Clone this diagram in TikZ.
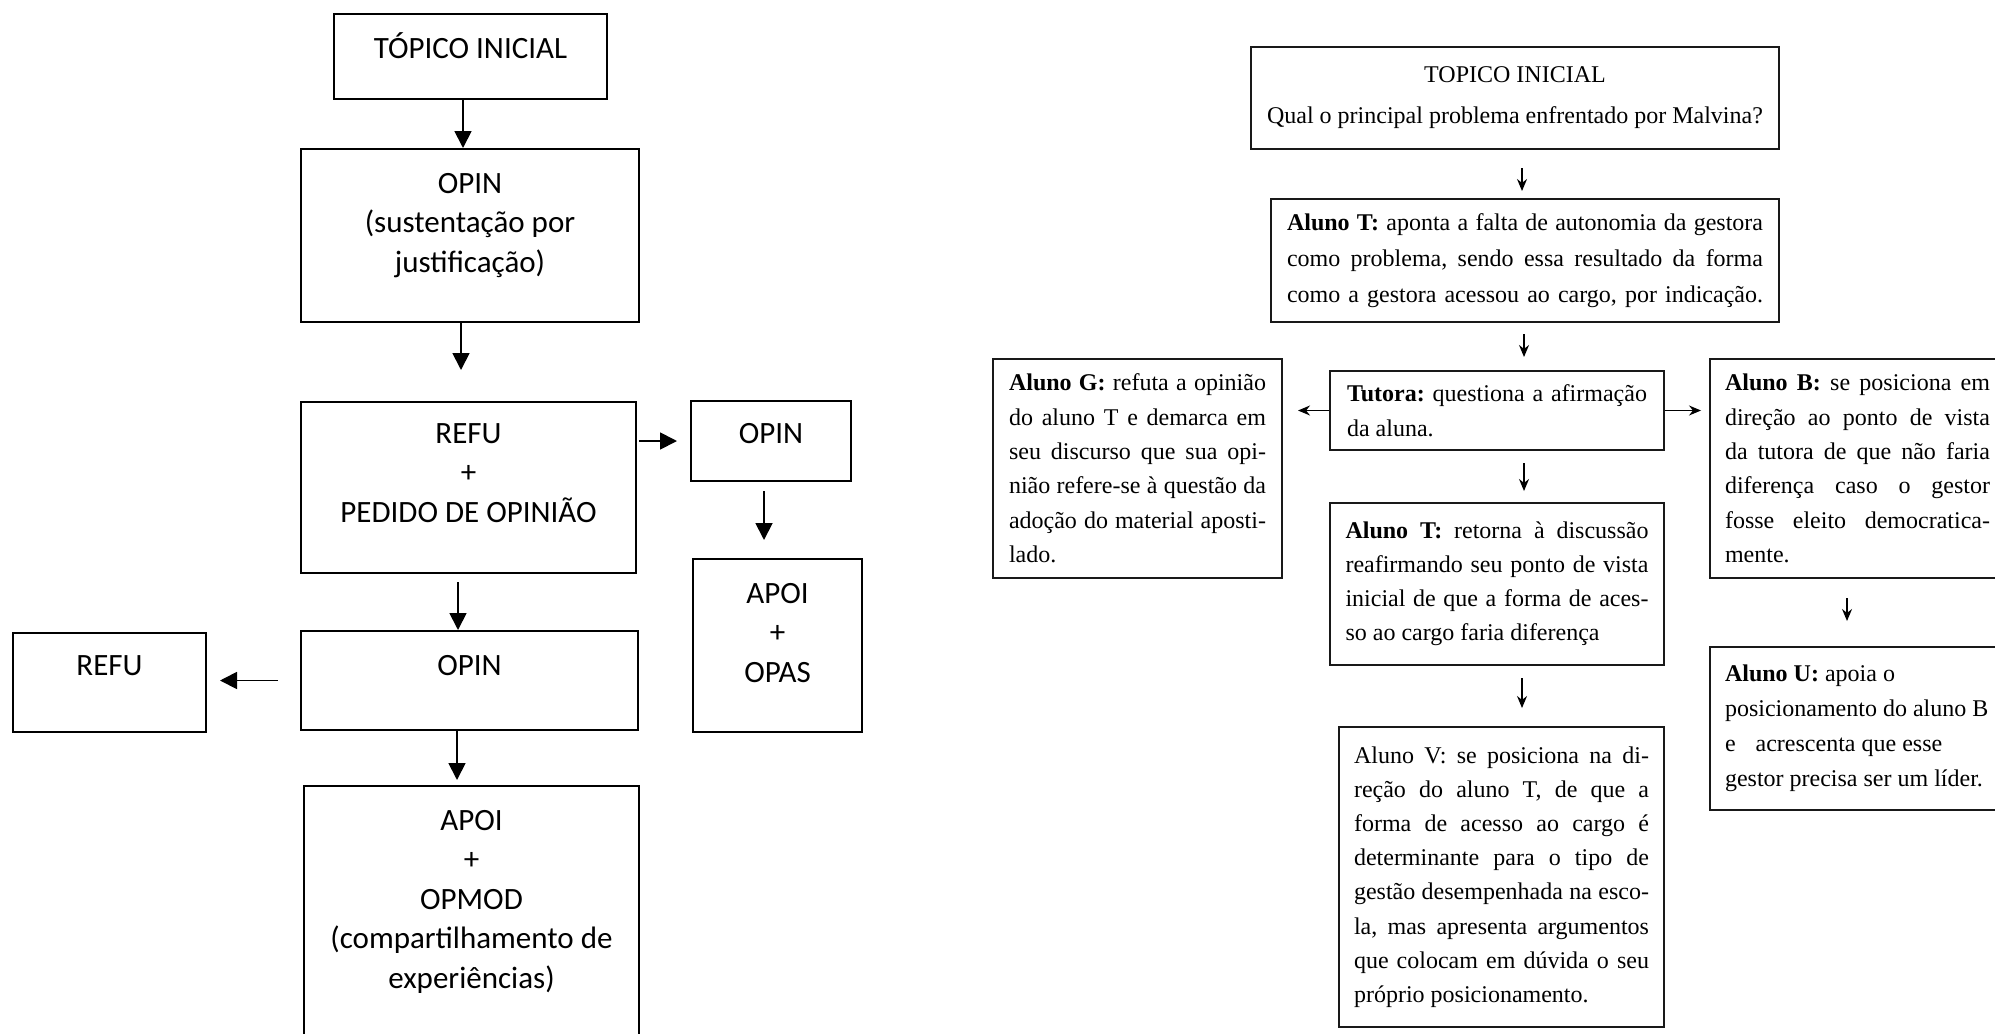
\documentclass[tikz,border=0pt]{standalone}
\usepackage{fontspec}
\usetikzlibrary{arrows.meta}
\newfontfamily\carlito{Carlito}
\newfontfamily\serifa{Liberation Serif}
\newcommand{\esqfont}{\carlito\fontsize{15.5pt}{19.75pt}\selectfont}
\newcommand{\dirfont}[1][17.2pt]{\serifa\fontsize{12pt}{#1}\selectfont\frenchspacing}
\newcommand{\topo}[4]{\parbox[c][#2][t]{#1}{\centering\rule{0pt}{#3}#4}}
\newcommand{\cheia}[1]{{\spaceskip=0pt\xspaceskip=0pt\makebox[\linewidth][s]{#1}}}

\tikzset{
	esq/.style={draw, line width=1pt, inner sep=0pt, font=\esqfont},
	dir/.style={draw=black!90, line width=1pt, inner sep=0pt, align=left, font=\dirfont,
		execute at begin node={\spaceskip=0pt\xspaceskip=0pt}},
	seta/.style={line width=0.9pt, -{Triangle[length=8.5pt,width=8.5pt]}},
	setafina/.style={line width=0.6pt, -{Stealth[length=6pt,width=5pt]}}
}

\begin{document}
\begin{tikzpicture}[x=0.5pt, y=-0.5pt]
		\path[use as bounding box, fill=white] (0, 0) rectangle (1995, 1033);

		%%% Esquema da esquerda
		\node[esq] (topico1) at (470.5, 56.5) {\topo{136.5pt}{42.5pt}{22pt}{TÓPICO INICIAL}};
		\node[esq] (opin1) at (470, 235.5) {\topo{169pt}{86.5pt}{22pt}{OPIN\\(sustentação por\\justificação)}};
		\node[esq] (refu1) at (468.5, 487.5) {\topo{167.5pt}{85.5pt}{20.5pt}{REFU\\+\\PEDIDO DE OPINIÃO}};
		\node[esq] (opin2) at (771, 441) {\topo{80pt}{40pt}{21pt}{OPIN}};
		\node[esq] (apoi1) at (777.5, 645.5) {\topo{84.5pt}{86.5pt}{22pt}{APOI\\+\\OPAS}};
		\node[esq] (opin3) at (469.5, 680.5) {\topo{168.5pt}{49.5pt}{22pt}{OPIN}};
		\node[esq] (refu2) at (109.5, 682.5) {\topo{96.5pt}{49.5pt}{21pt}{REFU}};
		\node[esq] (apoi2) at (471.5, 915.5) {\topo{167.5pt}{129.5pt}{22pt}{APOI\\+\\OPMOD\\(compartilhamento de\\experiências)}};

		\draw[seta] ([xshift=-3.75pt]topico1.south) -- ([xshift=-3.5pt]opin1.north);
		\draw[seta, shorten >=15.5pt] ([xshift=-4.5pt]opin1.south) -- ([xshift=-3.75pt]refu1.north);
		\draw[seta, shorten <=1pt, shorten >=6.5pt] (refu1.east |- opin2.west) -- (opin2.west);
		\draw[seta, shorten <=4.5pt, shorten >=9pt] ([xshift=-3.5pt]opin2.south) -- ([xshift=-6.75pt]apoi1.north);
		\draw[seta, shorten <=4pt] ([xshift=-5.25pt]refu1.south) -- ([xshift=-5.75pt]opin3.north);
		\draw[seta, shorten <=11pt, shorten >=6.5pt] (opin3.west) -- (refu2.east |- opin3.west);
		\draw[seta, shorten >=2.5pt] ([xshift=-6.25pt]opin3.south) -- ([xshift=-7.25pt]apoi2.north);

		%%% Esquema da direita
		\node[dir, align=center, text width=262pt, minimum width=264pt, minimum height=51pt, font={\dirfont[20.5pt]}] (topico2) at (1515, 98)
			{\mbox{TOPICO INICIAL}\\\mbox{Qual o principal problema enfrentado por Malvina?}};
		\node[dir, text width=238pt, minimum width=254pt, minimum height=61.5pt, font={\dirfont[18pt]}] (alunoT) at (1525, 260.5)
			{\cheia{\textbf{Aluno T:} aponta a falta de autonomia da gestora}\\
			\cheia{como problema, sendo essa resultado da forma}\\
			\cheia{como a gestora acessou ao cargo, por indicação.}};
		\node[dir, text width=150pt, minimum width=167pt, minimum height=39.5pt, font={\dirfont[17.5pt]}] (tutora) at (1497, 410.5)
			{\cheia{\textbf{Tutora:} questiona a afirmação}\\da aluna.};
		\node[dir, text width=128.5pt, minimum width=144.5pt, minimum height=109.5pt] (alunoG) at (1137.5, 468.5)
			{\cheia{\textbf{Aluno G:} refuta a opinião}\\
			\cheia{do aluno T e demarca em}\\
			\cheia{seu discurso que sua opi-}\\
			\cheia{nião refere-se à questão da}\\
			\cheia{adoção do material aposti-}\\
			lado.};
		\node[dir, text width=132.5pt, minimum width=147.5pt, minimum height=109.5pt] (alunoB) at (1857.5, 468.5)
			{\cheia{\textbf{Aluno B:} se posiciona em}\\
			\cheia{direção ao ponto de vista}\\
			\cheia{da tutora de que não faria}\\
			\cheia{diferença caso o gestor}\\
			\cheia{fosse eleito democratica-}\\
			mente.};
		\node[dir, text width=151.5pt, minimum width=167pt, minimum height=81pt, font={\dirfont[17pt]}] (alunoT2) at (1497, 584)
			{\cheia{\textbf{Aluno T:} retorna à discussão}\\
			\cheia{reafirmando seu ponto de vista}\\
			\cheia{inicial de que a forma de aces-}\\
			so ao cargo faria diferença};
		\node[dir, text width=147.5pt, minimum width=162.5pt, minimum height=150pt, font={\dirfont[17.1pt]}] (alunoV) at (1501.5, 877)
			{\cheia{Aluno V: se posiciona na di-}\\
			\cheia{reção do aluno T, de que a}\\
			\cheia{forma de acesso ao cargo é}\\
			\cheia{determinante para o tipo de}\\
			\cheia{gestão desempenhada na esco-}\\
			\cheia{la, mas apresenta argumentos}\\
			\cheia{que colocam em dúvida o seu}\\
			próprio posicionamento.};
		\node[dir, text width=140pt, minimum width=155pt, minimum height=81.5pt, font={\dirfont[17.5pt]}] (alunoU) at (1865, 728.5)
			{\textbf{Aluno U:} apoia o\\
			posicionamento do aluno B\\
			e\hspace{7pt} acrescenta que esse\\
			gestor precisa ser um líder.};

		\draw[setafina, shorten <=9pt, shorten >=3.5pt] ([xshift=3.5pt]topico2.south) -- ([xshift=-1.5pt]alunoT.north);
		\draw[setafina, shorten <=5.5pt, shorten >=6.5pt] ([xshift=-0.5pt]alunoT.south) -- ([xshift=13.5pt]tutora.north);
		\draw[setafina, shorten >=7.5pt] (tutora.west) -- (alunoG.east |- tutora.west);
		\draw[setafina, shorten >=4pt] (tutora.east) -- (alunoB.west |- tutora.east);
		\draw[setafina, shorten <=6pt, shorten >=5.5pt] ([xshift=13.5pt]tutora.south) -- ([xshift=13.5pt]alunoT2.north);
		\draw[setafina, shorten <=6pt, shorten >=9pt] ([xshift=12.5pt]alunoT2.south) -- ([xshift=10.25pt]alunoV.north);
		\draw[setafina, shorten <=9.5pt, shorten >=12.5pt] ([xshift=-5.25pt]alunoB.south) -- ([xshift=-9pt]alunoU.north);
\end{tikzpicture}
\end{document}
